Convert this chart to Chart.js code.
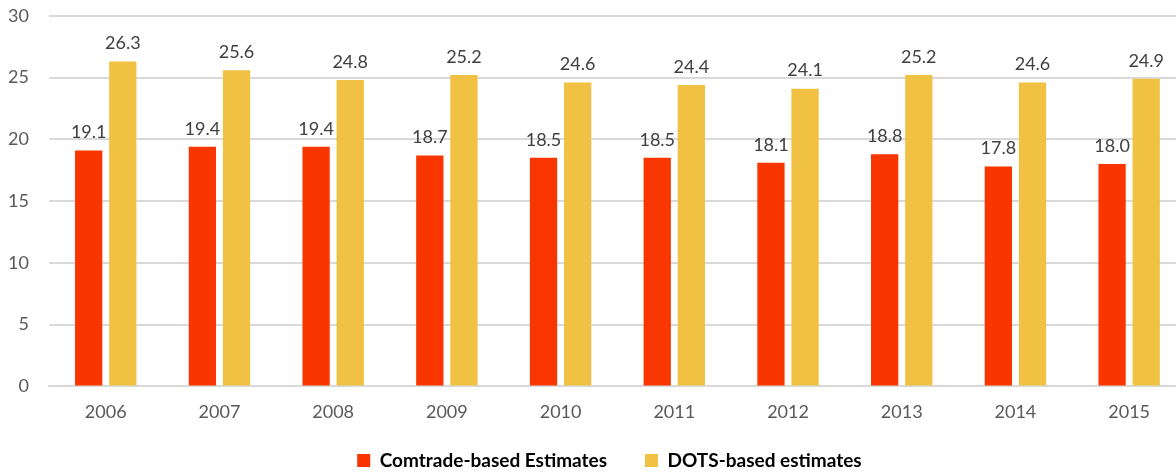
<!DOCTYPE html>
<html>
<head>
<meta charset="utf-8">
<script src="https://cdn.jsdelivr.net/npm/chart.js@4/dist/chart.umd.min.js"></script>
<style>
  html, body { margin: 0; background: #fff; overflow: hidden; }
  #wrap { width: 1198px; height: 488px; margin-top: -15px; margin-left: -12px; }
</style>
</head>
<body>
<div id="wrap"><canvas id="barChart"></canvas></div>
<script>
// datos del grafico
var years = ['2006', '2007', '2008', '2009', '2010', '2011', '2012', '2013', '2014', '2015'];
var comtrade = [19.1, 19.4, 19.4, 18.7, 18.5, 18.5, 18.1, 18.8, 17.8, 18.0];
var dots = [26.3, 25.6, 24.8, 25.2, 24.6, 24.4, 24.1, 25.2, 24.6, 24.9];
var yTicks = [0, 5, 10, 15, 20, 25, 30];

var fontFamily = 'Lato, "Open Sans", sans-serif';

// etiquetas encima de cada barra
var valueLabels = {
  id: 'valueLabels',
  afterDatasetsDraw: function (chart) {
    var ctx = chart.ctx;
    ctx.save();
    ctx.font = '18px ' + fontFamily;
    ctx.fillStyle = '#404040';
    ctx.textAlign = 'center';
    ctx.textBaseline = 'bottom';
    chart.data.datasets.forEach(function (ds, i) {
      chart.getDatasetMeta(i).data.forEach(function (bar, j) {
        ctx.fillText(ds.data[j].toFixed(1), bar.x, bar.y - 9);
      });
    });
    ctx.restore();
  }
};

// mover la leyenda un poco (centrada sobre el area del grafico)
var legendShift = {
  id: 'legendShift',
  afterLayout: function (chart) {
    var lg = chart.legend;
    var dx = (chart.chartArea.left + chart.chartArea.right) / 2 - (lg.left + lg.right) / 2 - 8;
    lg.left += dx;
    lg.right += dx;
    lg.top += 7;
    lg.bottom += 7;
  }
};

var barChartCanvas = document.getElementById('barChart').getContext('2d');

new Chart(barChartCanvas, {
  type: 'bar',
  data: {
    labels: years,
    datasets: [
      {
        label: 'Comtrade-based Estimates',
        backgroundColor: '#F93600',
        data: comtrade
      },
      {
        label: 'DOTS-based estimates',
        backgroundColor: '#F0C142',
        data: dots
      }
    ]
  },
  options: {
    responsive: true,
    maintainAspectRatio: false,
    animation: false,
    categoryPercentage: 0.6,
    barPercentage: 0.8,
    layout: { padding: { top: 5, right: 0, left: 0, bottom: 0 } },
    plugins: {
      tooltip: { enabled: false },
      legend: {
        position: 'bottom',
        labels: {
          boxWidth: 13,
          boxHeight: 13,
          padding: 1,
          color: '#595959',
          font: { family: fontFamily, size: 19, weight: 'bold' },
          generateLabels: function (chart) {
            return chart.data.datasets.map(function (ds, i) {
              return {
                text: i === 0 ? ds.label + '        ' : ds.label,
                fillStyle: ds.backgroundColor,
                strokeStyle: ds.backgroundColor,
                lineWidth: 0,
                datasetIndex: i
              };
            });
          }
        }
      }
    },
    scales: {
      x: {
        grid: { display: false },
        border: { color: '#d9d9d9', width: 2 },
        afterFit: function (scale) { scale.height += 14; },
        ticks: {
          color: '#595959',
          padding: 6.5,
          font: { family: fontFamily, size: 18 }
        }
      },
      y: {
        min: 0,
        max: 30,
        afterBuildTicks: function (axis) {
          axis.ticks = yTicks.map(function (v) { return { value: v }; });
        },
        grid: { color: '#d9d9d9', lineWidth: 2, drawTicks: false },
        border: { display: false },
        ticks: {
          color: '#595959',
          padding: 20,
          font: { family: fontFamily, size: 18 }
        }
      }
    }
  },
  plugins: [valueLabels, legendShift]
});
</script>
</body>
</html>
